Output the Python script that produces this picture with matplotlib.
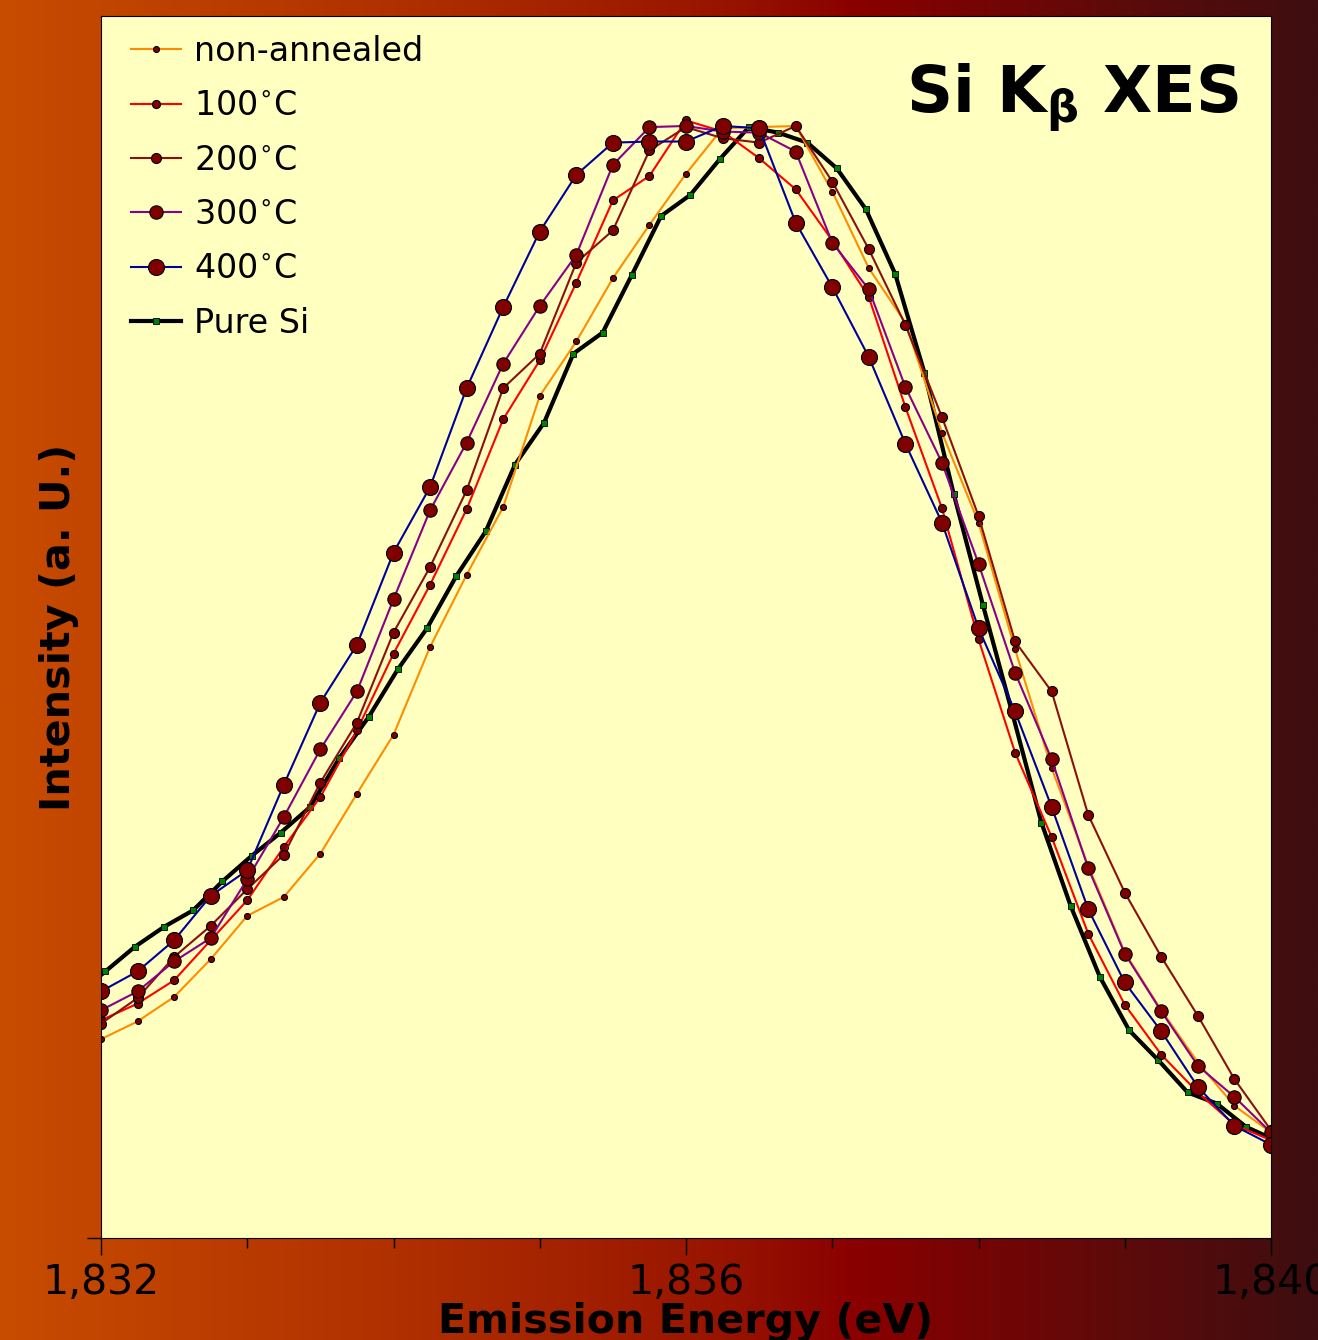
import matplotlib
matplotlib.use("Agg")
import matplotlib.pyplot as plt
import numpy as np
from matplotlib.colors import LinearSegmentedColormap
from matplotlib.ticker import FuncFormatter, MultipleLocator

# energia (eV) - amostras recozidas, passo 0.25
energy = [1832.00, 1832.25, 1832.50, 1832.75, 1833.00, 1833.25, 1833.50, 1833.75,
          1834.00, 1834.25, 1834.50, 1834.75, 1835.00, 1835.25, 1835.50, 1835.75,
          1836.00, 1836.25, 1836.50, 1836.75, 1837.00, 1837.25, 1837.50, 1837.75,
          1838.00, 1838.25, 1838.50, 1838.75, 1839.00, 1839.25, 1839.50, 1839.75,
          1840.00]

non_annealed = [0.179, 0.195, 0.217, 0.251, 0.290, 0.307, 0.346, 0.400, 0.453, 0.532,
                0.597, 0.658, 0.758, 0.807, 0.864, 0.912, 0.958, 0.999, 1.000, 1.001,
                0.942, 0.873, 0.824, 0.725, 0.644, 0.530, 0.423, 0.335, 0.257, 0.205,
                0.158, 0.119, 0.095]
t100 = [0.196, 0.211, 0.232, 0.268, 0.304, 0.352, 0.397, 0.457, 0.526, 0.588,
        0.656, 0.737, 0.790, 0.860, 0.934, 0.956, 1.006, 0.996, 0.972, 0.944,
        0.898, 0.847, 0.748, 0.657, 0.539, 0.437, 0.361, 0.274, 0.210, 0.165,
        0.131, 0.102, 0.088]
t200 = [0.193, 0.216, 0.253, 0.281, 0.314, 0.345, 0.410, 0.464, 0.545, 0.604,
        0.673, 0.765, 0.796, 0.878, 0.907, 0.979, 1.000, 0.990, 0.986, 1.001,
        0.951, 0.890, 0.822, 0.739, 0.650, 0.537, 0.492, 0.381, 0.311, 0.253,
        0.200, 0.143, 0.097]
t300 = [0.205, 0.222, 0.249, 0.270, 0.323, 0.379, 0.440, 0.492, 0.575, 0.655,
        0.716, 0.787, 0.839, 0.885, 0.966, 1.000, 1.001, 0.996, 0.995, 0.978,
        0.896, 0.854, 0.766, 0.698, 0.607, 0.509, 0.431, 0.333, 0.256, 0.204,
        0.155, 0.127, 0.095]
t400 = [0.222, 0.240, 0.268, 0.308, 0.331, 0.408, 0.482, 0.534, 0.617, 0.676,
        0.765, 0.838, 0.906, 0.957, 0.986, 0.987, 0.987, 1.001, 0.999, 0.914,
        0.856, 0.793, 0.715, 0.644, 0.549, 0.474, 0.388, 0.296, 0.230, 0.186,
        0.136, 0.101, 0.084]

# Si puro - outra grade, passo 0.2
energy_si = [1831.83, 1832.03, 1832.23, 1832.43, 1832.63, 1832.83, 1833.03, 1833.23,
             1833.43, 1833.63, 1833.83, 1834.03, 1834.23, 1834.43, 1834.63, 1834.83,
             1835.03, 1835.23, 1835.43, 1835.63, 1835.83, 1836.03, 1836.23, 1836.43,
             1836.63, 1836.83, 1837.03, 1837.23, 1837.43, 1837.63, 1837.83, 1838.03,
             1838.23, 1838.43, 1838.63, 1838.83, 1839.03, 1839.23, 1839.43, 1839.63,
             1839.83, 1840.03]
pure_si = [0.218, 0.240, 0.262, 0.280, 0.295, 0.321, 0.344, 0.365, 0.388, 0.432,
           0.469, 0.512, 0.549, 0.596, 0.636, 0.696, 0.734, 0.796, 0.815, 0.867,
           0.920, 0.939, 0.971, 1.000, 0.995, 0.986, 0.963, 0.926, 0.868, 0.779,
           0.670, 0.570, 0.473, 0.374, 0.299, 0.235, 0.187, 0.160, 0.131, 0.121,
           0.100, 0.088]

fig = plt.figure(figsize=(13.18, 13.40), dpi=100)

# fundo em degradê
bg = fig.add_axes([0, 0, 1, 1], zorder=-10)
cmap_bg = LinearSegmentedColormap.from_list(
    "bg", [(0.0, "#c84c00"), (0.3, "#b03000"), (0.55, "#981400"),
           (0.65, "#8a0000"), (0.85, "#5e0a0a"), (1.0, "#3e0e10")])
bg.imshow(np.linspace(0, 1, 512)[None, :], aspect="auto", cmap=cmap_bg,
          extent=[0, 1, 0, 1])
bg.set_axis_off()

ax = fig.add_axes([101 / 1318, 1 - 1238 / 1340, 1170 / 1318, 1222 / 1340])
ax.set_facecolor("#ffffbf")

mk = dict(marker="o", markerfacecolor="#800000", markeredgecolor="black",
          markeredgewidth=0.8)

h_si, = ax.plot(energy_si, pure_si, color="black", lw=3, marker="s", ms=5,
                markerfacecolor="#008000", markeredgecolor="black",
                markeredgewidth=0.6, label="Pure Si")
h0, = ax.plot(energy, non_annealed, color="#ff8c00", lw=1.5, ms=4.3,
              label="non-annealed", **mk)
h1, = ax.plot(energy, t100, color="#ff0000", lw=1.5, ms=5.8,
              label="100$^{\\circ}$C", **mk)
h2, = ax.plot(energy, t200, color="#8b1010", lw=1.5, ms=7.2,
              label="200$^{\\circ}$C", **mk)
h3, = ax.plot(energy, t300, color="#880088", lw=1.5, ms=9.6,
              label="300$^{\\circ}$C", **mk)
h4, = ax.plot(energy, t400, color="#000099", lw=1.5, ms=11.5,
              label="400$^{\\circ}$C", **mk)

ax.set_xlim(1832, 1840)
ax.set_ylim(0, 1.1)

ax.xaxis.set_major_locator(MultipleLocator(4))
ax.xaxis.set_minor_locator(MultipleLocator(1))
ax.xaxis.set_major_formatter(FuncFormatter(lambda v, p: f"{v:,.0f}"))
ax.set_yticks([0])
ax.set_yticklabels([""])
ax.tick_params(axis="x", which="major", length=12, width=1, labelsize=29.5, pad=6)
ax.tick_params(axis="x", which="minor", length=7, width=1)
ax.tick_params(axis="y", which="major", length=10, width=1)

ax.set_xlabel("Emission Energy (eV)", fontsize=29.7, fontweight="bold")
ax.xaxis.set_label_coords(0.5, -0.052)
ax.set_ylabel("Intensity (a. U.)", fontsize=29.8, fontweight="bold")
ax.yaxis.set_label_coords(-0.019, 0.5)

ax.text(0.972, 0.921, r"Si K$_{\mathbf{\beta}}$ XES", transform=ax.transAxes,
        ha="right", va="baseline", fontsize=46, fontweight="bold")

ax.legend(handles=[h0, h1, h2, h3, h4, h_si], loc="upper left", frameon=False,
          fontsize=24, handlelength=1.5, handletextpad=0.4, labelspacing=0.64,
          numpoints=1, bbox_to_anchor=(0.0, 1.009))

fig.savefig("out.png", dpi=100)
